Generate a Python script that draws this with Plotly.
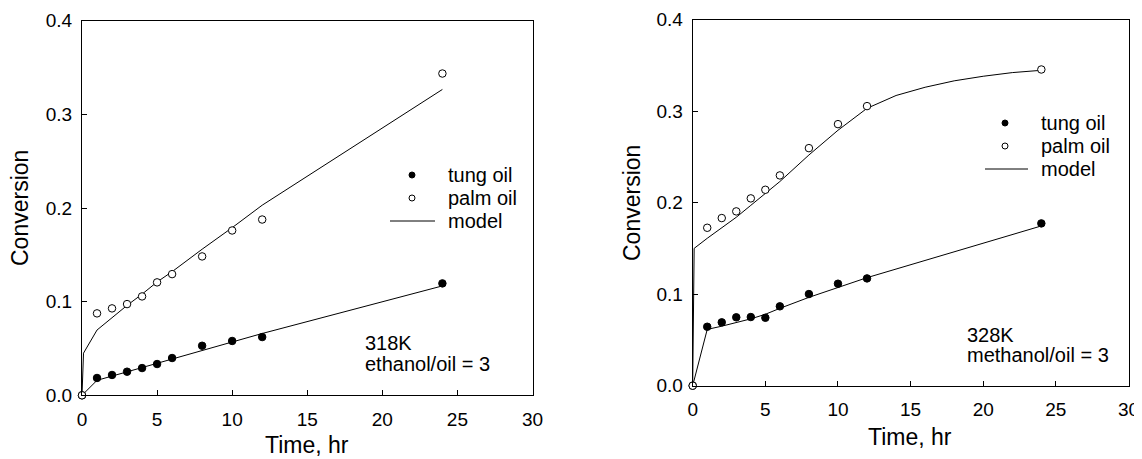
import plotly.graph_objects as go

# ---------------- data ----------------
time_data = [0, 1, 2, 3, 4, 5, 6, 8, 10, 12, 24]

# 318K, ethanol/oil = 3
tung_318 = [0, 0.0185, 0.0217, 0.0252, 0.0291, 0.0334, 0.0398, 0.0529, 0.058, 0.0622, 0.1195]
palm_318 = [0, 0.0875, 0.0928, 0.0974, 0.1056, 0.1206, 0.1294, 0.1483, 0.176, 0.1877, 0.3436]
model_tung_318_t = [0, 1, 2, 3, 4, 5, 6, 8, 10, 12, 24]
model_tung_318 = [0, 0.016, 0.0205, 0.025, 0.0297, 0.0343, 0.039, 0.048, 0.057, 0.066, 0.1168]
model_palm_318_t = [0, 0.1, 1, 2, 3, 4, 5, 6, 8, 10, 12, 24]
model_palm_318 = [0, 0.045, 0.0697, 0.083, 0.096, 0.108, 0.121, 0.132, 0.156, 0.179, 0.203, 0.3266]

# 328K, methanol/oil = 3
tung_328 = [0, 0.0644, 0.0692, 0.0747, 0.075, 0.0742, 0.0867, 0.1001, 0.1114, 0.1172, 0.1773]
palm_328 = [0, 0.1725, 0.1831, 0.1904, 0.2046, 0.214, 0.2297, 0.2595, 0.2857, 0.3054, 0.3454]
model_tung_328_t = [0, 1, 2, 3, 4, 5, 6, 8, 10, 12, 24]
model_tung_328 = [0, 0.0615, 0.065, 0.069, 0.073, 0.078, 0.0845, 0.0965, 0.107, 0.118, 0.1745]
model_palm_328_t = [0, 0.1, 1, 2, 3, 4, 5, 6, 8, 10, 12, 14, 16, 18, 20, 22, 24]
model_palm_328 = [0, 0.15, 0.161, 0.172, 0.184, 0.197, 0.21, 0.223, 0.252, 0.279, 0.303,
                  0.317, 0.326, 0.333, 0.338, 0.342, 0.3445]

x_ticks = [0, 5, 10, 15, 20, 25, 30]
y_ticks = [0.0, 0.1, 0.2, 0.3, 0.4]
legend_labels = ["tung oil", "palm oil", "model"]

FONT = "Liberation Sans, Arial, sans-serif"
OFF = 8  # page body margin
W, H = 1142 - OFF, 459 - OFF

fig = go.Figure()

def add_panel(xa, ya, tung, palm, mt_t, mt, mp_t, mp):
    fig.add_trace(go.Scatter(x=mp_t, y=mp, mode="lines", name="model",
                             line=dict(color="black", width=1), xaxis=xa, yaxis=ya,
                             showlegend=False, cliponaxis=False))
    fig.add_trace(go.Scatter(x=mt_t, y=mt, mode="lines", name="model", showlegend=False,
                             line=dict(color="black", width=1), xaxis=xa, yaxis=ya,
                             cliponaxis=False))
    fig.add_trace(go.Scatter(x=time_data, y=tung, mode="markers", name="tung oil",
                             marker=dict(symbol="circle", size=7.5, color="black",
                                         line=dict(color="black", width=1)),
                             xaxis=xa, yaxis=ya, showlegend=False, cliponaxis=False))
    fig.add_trace(go.Scatter(x=time_data, y=palm, mode="markers", name="palm oil",
                             marker=dict(symbol="circle", size=7.5, color="white",
                                         line=dict(color="black", width=1)),
                             xaxis=xa, yaxis=ya, showlegend=False, cliponaxis=False))

add_panel("x", "y", tung_318, palm_318, model_tung_318_t, model_tung_318,
          model_palm_318_t, model_palm_318)
add_panel("x2", "y2", tung_328, palm_328, model_tung_328_t, model_tung_328,
          model_palm_328_t, model_palm_328)

def px_x(p):
    return (p - OFF) / W

def px_y(p):
    return 1 - (p - OFF) / H

axis_common = dict(showgrid=False, zeroline=False, showline=True, linecolor="black",
                   linewidth=1, mirror=True, ticks="inside", ticklen=5, tickwidth=1,
                   tickcolor="black", automargin=False, ticklabeloverflow="allow",
                   tickfont=dict(family=FONT, size=19, color="black"))

xl = dict(axis_common, range=[0, 30], tickvals=x_ticks, ticktext=[str(v) for v in x_ticks])
yl = dict(axis_common, range=[0, 0.4], tickvals=y_ticks, ticktext=[f"{v:.1f}" for v in y_ticks])

fig.update_layout(
    template="none",
    width=W, height=H,
    margin=dict(l=0, r=0, t=0, b=0, autoexpand=False),
    paper_bgcolor="white", plot_bgcolor="white",
    font=dict(family=FONT, size=19, color="black"),
    xaxis=dict(xl, domain=[px_x(82), px_x(532.5)], anchor="y", ticklabelstandoff=7),
    yaxis=dict(yl, domain=[px_y(395.3), px_y(20.7)], anchor="x", ticklabelstandoff=5),
    xaxis2=dict(xl, domain=[px_x(692.7), px_x(1128.5)], anchor="y2", ticklabelstandoff=6),
    yaxis2=dict(yl, domain=[px_y(385.7), px_y(19.5)], anchor="x2", ticklabelstandoff=5),
    showlegend=False,
)

# axis titles
annots = [
    dict(text="Conversion", x=px_x(20), y=px_y(208), textangle=-90, yanchor="middle"),
    dict(text="Conversion", x=px_x(632), y=px_y(203), textangle=-90, yanchor="middle"),
    dict(text="Time, hr", x=px_x(307), y=px_y(458.5), yanchor="bottom"),
    dict(text="Time, hr", x=px_x(910), y=px_y(437), yanchor="middle"),
]
for a in annots:
    fig.add_annotation(xref="paper", yref="paper", showarrow=False, xanchor="center",
                       borderpad=0, font=dict(family=FONT, size=23, color="black"), **a)

# condition labels
cond = [
    ("318K", 363, 343), ("ethanol/oil = 3", 363, 364),
    ("328K", 965, 335), ("methanol/oil = 3", 965, 355),
]
for txt, xp, yp in cond:
    fig.add_annotation(xref="paper", yref="paper", showarrow=False, x=px_x(xp), y=px_y(yp),
                       xanchor="left", yanchor="middle", text=txt,
                       font=dict(family=FONT, size=20, color="black"))

# legends (key glyphs + labels)
def add_legend(mx, text_x, rows, line_x0, line_x1):
    r = 3.0
    fig.add_shape(type="circle", xref="paper", yref="paper",
                  x0=px_x(mx - r), x1=px_x(mx + r), y0=px_y(rows[0] + r), y1=px_y(rows[0] - r),
                  fillcolor="black", line=dict(color="black", width=1))
    fig.add_shape(type="circle", xref="paper", yref="paper",
                  x0=px_x(mx - r), x1=px_x(mx + r), y0=px_y(rows[1] + r), y1=px_y(rows[1] - r),
                  fillcolor="white", line=dict(color="black", width=1))
    fig.add_shape(type="line", xref="paper", yref="paper",
                  x0=px_x(line_x0), x1=px_x(line_x1), y0=px_y(rows[2]), y1=px_y(rows[2]),
                  line=dict(color="black", width=1))
    for lab, yp in zip(legend_labels, rows):
        fig.add_annotation(xref="paper", yref="paper", showarrow=False, x=px_x(text_x),
                           y=px_y(yp), xanchor="left", yanchor="middle", text=lab,
                           font=dict(family=FONT, size=20, color="black"))

add_legend(412, 446, [175, 198, 221], 390, 435)
add_legend(1005, 1039, [123, 146, 169], 985, 1028)

fig.write_html("out.html")
